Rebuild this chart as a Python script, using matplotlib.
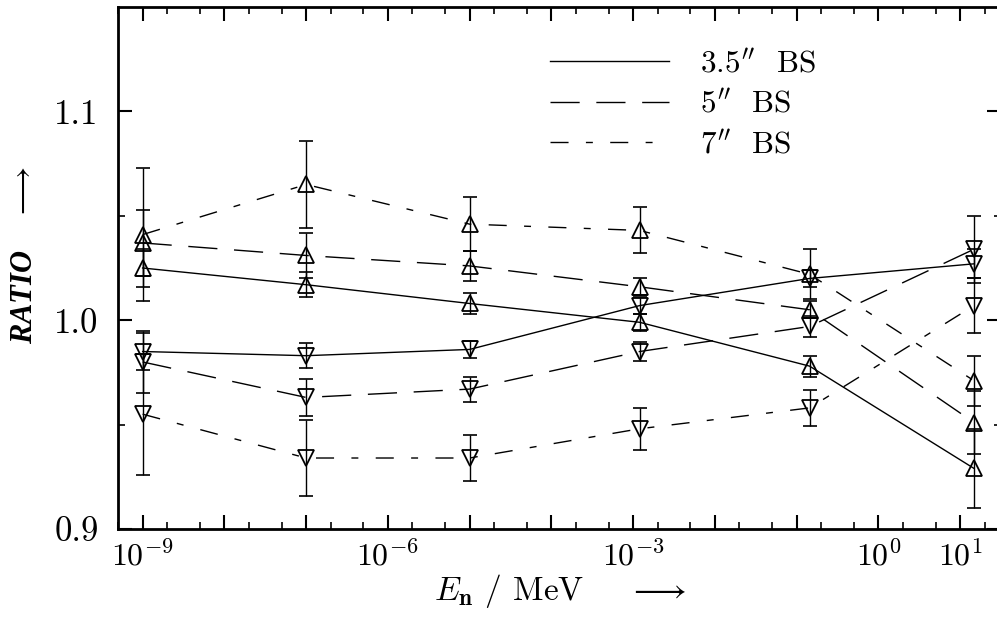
import matplotlib
matplotlib.use("Agg")
import matplotlib.pyplot as plt
from matplotlib.ticker import FixedLocator, FixedFormatter, LogLocator, NullFormatter
from matplotlib.lines import Line2D

plt.rcParams["mathtext.fontset"] = "cm"
plt.rcParams["axes.formatter.use_mathtext"] = True

# Neutron energies (MeV)
energy = [1e-9, 1e-7, 1e-5, 1.2e-3, 0.144, 14.8]

# Ratios for each Bonner sphere: "up" and "down" sets with their uncertainties
bs35_up = [1.025, 1.017, 1.008, 0.999, 0.978, 0.929]
bs35_up_err = [0.009, 0.006, 0.005, 0.004, 0.005, 0.019]
bs35_dn = [0.985, 0.983, 0.986, 1.007, 1.020, 1.027]
bs35_dn_err = [0.009, 0.006, 0.004, 0.004, 0.004, 0.007]

bs5_up = [1.037, 1.031, 1.026, 1.016, 1.005, 0.951]
bs5_up_err = [0.016, 0.011, 0.007, 0.004, 0.004, 0.015]
bs5_dn = [0.980, 0.963, 0.967, 0.985, 0.997, 1.034]
bs5_dn_err = [0.015, 0.009, 0.006, 0.0045, 0.005, 0.016]

bs7_up = [1.041, 1.065, 1.046, 1.043, 1.022, 0.971]
bs7_up_err = [0.032, 0.021, 0.013, 0.011, 0.012, 0.012]
bs7_dn = [0.955, 0.934, 0.934, 0.948, 0.958, 1.007]
bs7_dn_err = [0.029, 0.018, 0.011, 0.010, 0.0085, 0.013]

series_labels = [r"3.5$''$  BS", r"5$''$  BS", r"7$''$  BS"]

x_major = [1e-9, 1e-8, 1e-7, 1e-6, 1e-5, 1e-4, 1e-3, 1e-2, 1e-1, 1e0, 1e1]
x_major_labels = [r"$\mathbf{10^{-9}}$", "", "", r"$\mathbf{10^{-6}}$", "", "",
                  r"$\mathbf{10^{-3}}$", "", "", r"$\mathbf{10^{0}}$", r"$\mathbf{10^{1}}$"]
y_major = [0.9, 1.0, 1.1]
y_minor = [0.95, 1.05]

styles = [
    "-",
    (0, (21.0, 12.0)),
    (0, (13.0, 12.5, 5.0, 12.5)),
]

fig = plt.figure(figsize=(9.97, 6.26), dpi=100)
ax = fig.add_axes([118 / 997, 97 / 626, 883 / 997, 522 / 626])

groups = [
    (bs35_up, bs35_up_err, bs35_dn, bs35_dn_err),
    (bs5_up, bs5_up_err, bs5_dn, bs5_dn_err),
    (bs7_up, bs7_up_err, bs7_dn, bs7_dn_err),
]

for (up, up_err, dn, dn_err), ls in zip(groups, styles):
    for vals, errs, mk in ((up, up_err, "^"), (dn, dn_err, "v")):
        ax.plot(energy, vals, color="black", lw=1.0, ls=ls)
        ax.errorbar(energy, vals, yerr=errs, fmt="none", ecolor="black",
                    elinewidth=1.0, capsize=4.7, capthick=1.2)
        ax.plot(energy, vals, ls="none", marker=mk, ms=11, mfc="none",
                mec="black", mew=1.3)

ax.set_xscale("log")
ax.set_xlim(5e-10, 10 ** 1.5)
ax.set_ylim(0.9, 1.15)

ax.xaxis.set_major_locator(FixedLocator(x_major))
ax.xaxis.set_major_formatter(FixedFormatter(x_major_labels))
ax.xaxis.set_minor_locator(LogLocator(base=10, subs=(2.0, 5.0), numticks=30))
ax.xaxis.set_minor_formatter(NullFormatter())

ax.set_yticks(y_major)
ax.set_yticklabels([f"{v:.1f}" for v in y_major], fontfamily="cmr10", fontsize=25)
ax.set_yticks(y_minor, minor=True)

ax.tick_params(which="both", direction="in", top=True, right=True, colors="black")
ax.tick_params(which="major", length=10, width=1.5)
ax.tick_params(axis="x", which="major", labelsize=23, pad=8)
ax.tick_params(which="minor", length=5, width=1.2)
ax.tick_params(axis="y", which="major", pad=14)

for sp in ax.spines.values():
    sp.set_linewidth(2.0)

ax.set_xlabel(r"$E_{\mathbf{n}}$ / MeV    $\longrightarrow$", fontfamily="cmr10",
              fontsize=24, labelpad=0)
ax.set_ylabel(r"RATIO    $\longrightarrow$", fontfamily="Liberation Serif",
              fontstyle="italic", fontweight="bold", fontsize=22)
ax.yaxis.set_label_coords(-0.09, 0.525)

handles = [Line2D([], [], color="black", lw=1.0, ls=ls) for ls in styles]
leg = ax.legend(handles, series_labels, loc="upper left",
                bbox_to_anchor=(0.489, 0.918), frameon=False, borderpad=0,
                borderaxespad=0, handlelength=3.8, handletextpad=1.0,
                labelspacing=0.38, prop={"family": "cmr10", "size": 22.5})

fig.savefig("out.png", dpi=100)
